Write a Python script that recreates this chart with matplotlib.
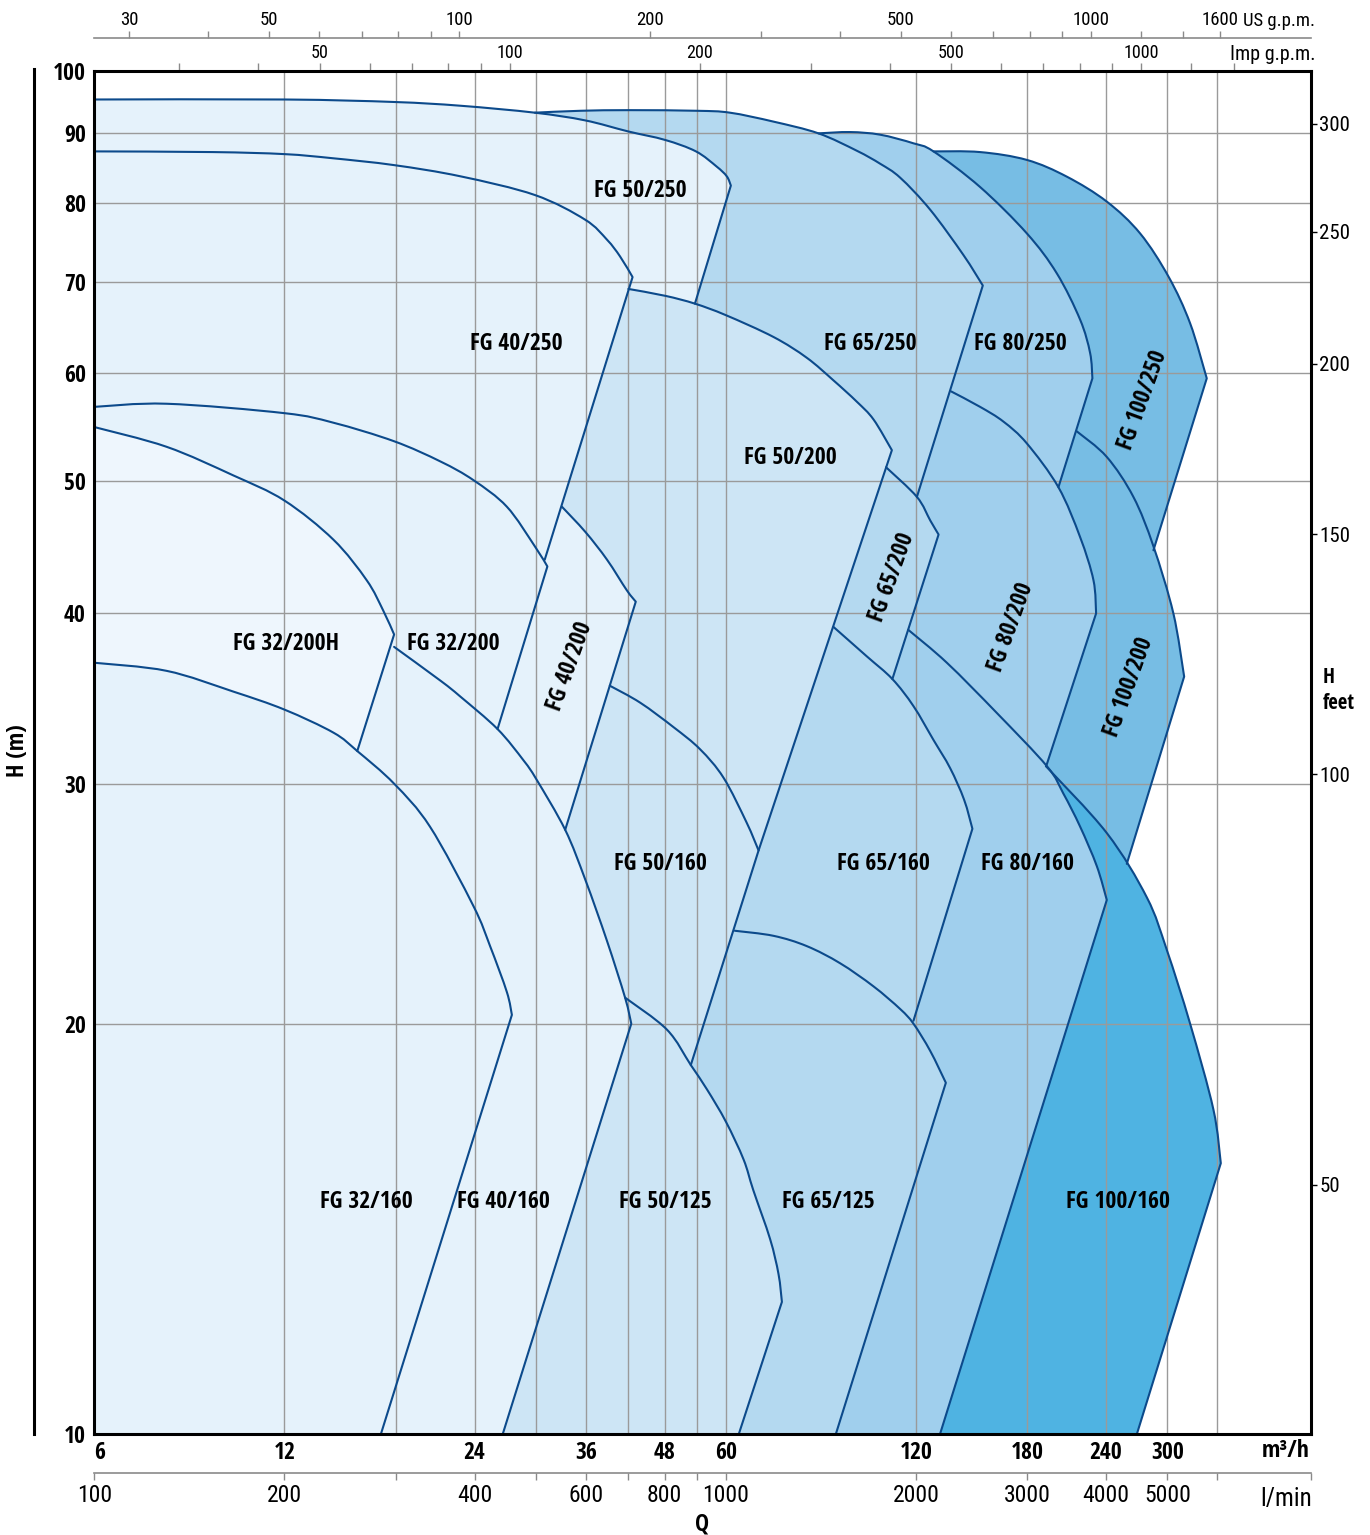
import os
import numpy as np
import matplotlib
matplotlib.use("Agg")
import matplotlib.pyplot as plt
from matplotlib import font_manager
from matplotlib.font_manager import FontProperties
from matplotlib.lines import Line2D
from matplotlib.path import Path
from matplotlib.patches import PathPatch
from matplotlib.ticker import NullLocator

# ---------------- fonts (narrow / condensed sans) ----------------
def _font_files():
    files = [f.fname for f in font_manager.fontManager.ttflist]
    try:
        files += font_manager.findSystemFonts()
    except Exception:
        pass
    out = {}
    for p in files:
        out.setdefault(os.path.basename(p).lower(), p)
    return out

_FILES = _font_files()

def _pick(names):
    for n in names:
        if n in _FILES:
            return _FILES[n]
    return None

_bold_file = _pick(["liberationsansnarrow-bold.ttf", "notosans-condensedbold.ttf",
                    "notosans-condensed-bold.ttf", "opensans-condbold.ttf",
                    "opensanscondensed-bold.ttf", "opensans_condensed-bold.ttf",
                    "robotocondensed-bold.ttf", "dejavusanscondensed-bold.ttf"])
_reg_file = _pick(["liberationsansnarrow-regular.ttf", "notosans-condensed.ttf",
                   "notosans-condensedregular.ttf", "notosans-condensed-regular.ttf",
                   "opensanscondensed-regular.ttf", "robotocondensed-regular.ttf",
                   "dejavusanscondensed.ttf"])

def fp_bold(size):
    if _bold_file:
        return FontProperties(fname=_bold_file, size=size)
    return FontProperties(family="DejaVu Sans", stretch="condensed", weight="bold", size=size)

def fp_reg(size):
    if _reg_file:
        return FontProperties(fname=_reg_file, size=size)
    return FontProperties(family="DejaVu Sans", stretch="condensed", size=size)

plt.rcParams["font.family"] = ["DejaVu Sans"]

# ---------------- data ----------------
# Pump ranges: top (max impeller) curve Q [m3/h] / H [m]; right boundary line runs
# from the last curve point down to *_end.
fg_100_250_q = [127.9, 151.6, 179.8, 208.0, 240.6, 271.7, 301.6, 326.0, 346.4]
fg_100_250_h = [87.3, 87.2, 86.05, 83.65, 80.2, 76.0, 70.6, 65.3, 59.5]
fg_100_250_end = [285.2, 44.5]

fg_100_200_q = [215.7, 240.6, 265.1, 285.2, 306.7, 319.0]
fg_100_200_h = [54.4, 52.1, 48.7, 44.8, 40.0, 35.95]
fg_100_200_end = [258.8, 26.2]

fg_100_160_q = [192.7, 240.6, 278.5, 299.5, 326.0, 354.9, 364.6]
fg_100_160_h = [30.9, 27.6, 24.75, 22.65, 20.0, 17.3, 15.8]
fg_100_160_end = [268.5, 10.0]

fg_80_250_q = [84.1, 94.4, 105.3, 118.9, 127.9, 151.6, 179.8, 200.5, 218.3, 226.4, 228.3]
fg_80_250_h = [90.0, 90.2, 89.8, 88.5, 87.3, 82.2, 76.0, 71.05, 65.7, 62.1, 59.5]
fg_80_250_end = [201.7, 49.5]

fg_80_200_q = [136.4, 151.6, 165.1, 179.8, 201.7, 218.3, 229.2, 231.4]
fg_80_200_h = [58.2, 56.7, 55.3, 53.3, 49.5, 45.5, 42.3, 40.0]
fg_80_200_end = [192.9, 30.9]

fg_80_160_q = [116.7, 134.3, 161.2, 193.4, 205.4, 218.3, 232.0, 240.6]
fg_80_160_h = [38.9, 36.8, 33.8, 30.9, 29.5, 27.9, 26.1, 24.65]
fg_80_160_end = [131.0, 10.0]

fg_65_250_q = [29.9, 35.3, 42.3, 54.0, 60.9, 71.4, 84.1, 96.7, 105.3, 113.3, 126.4, 142.6, 153.1]
fg_65_250_h = [93.2, 93.5, 93.6, 93.5, 93.2, 91.8, 90.0, 87.4, 85.5, 83.5, 79.1, 73.3, 69.6]
fg_65_250_end = [120.4, 48.7]

fg_65_200_q = [107.6, 120.4, 126.4, 130.3]
fg_65_200_h = [51.2, 48.7, 46.8, 45.7]
fg_65_200_end = [110.1, 35.8]

fg_65_160_q = [88.8, 100.3, 110.1, 118.9, 127.9, 135.9, 143.0, 147.4]
fg_65_160_h = [39.1, 37.2, 35.8, 34.2, 32.3, 30.8, 29.2, 27.8]
fg_65_160_end = [118.9, 20.1]

fg_65_125_q = [62.0, 71.4, 80.6, 91.0, 102.8, 113.3, 118.9, 126.4, 133.8]
fg_65_125_h = [23.4, 23.2, 22.8, 22.15, 21.3, 20.5, 20.0, 19.1, 18.1]
fg_65_125_end = [89.6, 10.0]

fg_50_250_q = [6.0, 12.0, 17.9, 22.8, 29.9, 35.9, 42.0, 48.1, 53.8, 58.0, 60.2, 61.1]
fg_50_250_h = [95.3, 95.3, 94.9, 94.3, 93.2, 92.0, 90.3, 89.0, 87.3, 85.1, 83.7, 82.4]
fg_50_250_end = [53.6, 67.5]

fg_50_200_q = [42.05, 48.1, 53.6, 60.0, 71.4, 80.6, 88.8, 96.7, 102.8, 109.9]
fg_50_200_h = [69.2, 68.4, 67.5, 66.2, 63.8, 61.6, 59.3, 57.2, 55.5, 52.7]
fg_50_200_end = [67.6, 26.8]

fg_50_160_q = [39.3, 43.9, 49.6, 54.6, 59.5, 64.7, 67.6]
fg_50_160_h = [35.4, 34.4, 33.0, 31.8, 30.3, 28.1, 26.8]
fg_50_160_end = [52.8, 18.65]

fg_50_125_q = [41.55, 48.4, 52.8, 56.0, 60.0, 64.0, 66.3, 70.5, 72.7, 73.6]
fg_50_125_h = [20.9, 19.8, 18.65, 17.9, 16.95, 15.9, 15.1, 13.9, 13.1, 12.5]
fg_50_125_end = [62.9, 10.0]

fg_40_250_q = [6.0, 9.25, 12.0, 14.3, 17.9, 22.8, 29.9, 35.9, 38.9, 40.8, 42.7]
fg_40_250_h = [87.3, 87.2, 86.9, 86.3, 85.3, 83.7, 81.1, 77.8, 75.2, 73.1, 70.6]
fg_40_250_end = [31.0, 43.8]

fg_40_200_q = [33.0, 35.95, 38.9, 41.8, 43.2]
fg_40_200_h = [47.9, 45.9, 43.8, 41.6, 40.8]
fg_40_200_end = [33.4, 27.75]

fg_40_160_q = [17.9, 21.2, 22.8, 26.1, 28.7, 30.1, 33.4, 35.95, 38.9, 41.55, 42.5]
fg_40_160_h = [37.8, 35.7, 34.75, 32.9, 31.2, 30.2, 27.75, 25.5, 23.0, 20.9, 20.0]
fg_40_160_end = [26.6, 10.0]

fg_32_200_q = [6.0, 7.81, 12.0, 14.35, 17.9, 21.2, 23.9, 27.0, 29.9, 31.3]
fg_32_200_h = [56.7, 57.0, 56.1, 55.2, 53.5, 51.7, 50.1, 47.9, 44.8, 43.3]
fg_32_200_end = [26.1, 32.9]

fg_32_200h_q = [6.0, 7.81, 9.96, 12.0, 14.35, 16.2, 17.2, 17.9]
fg_32_200h_h = [54.8, 53.0, 50.5, 48.4, 45.3, 42.3, 40.2, 38.6]
fg_32_200h_end = [15.65, 31.7]

fg_32_160_q = [6.0, 7.81, 9.96, 12.0, 14.35, 15.65, 17.9, 20.4, 23.9, 25.4, 27.0, 27.5]
fg_32_160_h = [36.8, 36.3, 35.05, 34.0, 32.7, 31.7, 30.0, 27.9, 24.4, 22.8, 21.1, 20.3]
fg_32_160_end = [17.06, 10.0]

# pump labels: name, Q, H, rotation
label_names = ["FG 50/250", "FG 40/250", "FG 65/250", "FG 80/250", "FG 100/250",
               "FG 50/200", "FG 32/200H", "FG 32/200", "FG 40/200", "FG 65/200",
               "FG 80/200", "FG 100/200", "FG 50/160", "FG 65/160", "FG 80/160",
               "FG 32/160", "FG 40/160", "FG 50/125", "FG 65/125", "FG 100/160"]
label_q = [44.0, 27.9, 101.5, 175.4, 274.7, 75.8, 12.07, 22.2, 34.0, 110.0,
           170.0, 261.1, 47.2, 106.5, 180.0, 16.2, 26.7, 48.1, 87.1, 250.8]
label_h = [81.7, 63.0, 63.0, 63.0, 57.3, 52.0, 38.0, 38.0, 36.55, 42.5,
           39.1, 35.3, 26.2, 26.2, 26.2, 14.8, 14.8, 14.8, 14.8, 14.8]
label_rot = [0, 0, 0, 0, 70, 0, 0, 0, 70, 70, 70, 70, 0, 0, 0, 0, 0, 0, 0, 0]

# axes
Q_MIN, Q_MAX = 6.0, 506.0
H_MIN, H_MAX = 10.0, 100.0
q_ticks = [6, 12, 24, 36, 48, 60, 120, 180, 240, 300]
h_ticks = [10, 20, 30, 40, 50, 60, 70, 80, 90, 100]
grid_h = [20, 30, 40, 50, 60, 70, 80, 90]
lmin_ticks = [100, 200, 300, 400, 500, 600, 700, 800, 900, 1000, 2000, 3000, 4000, 5000, 6000]
lmin_labeled = [100, 200, 400, 600, 800, 1000, 2000, 3000, 4000, 5000]
usgpm_ticks = [30, 40, 50, 60, 70, 80, 90, 100, 200, 300, 400, 500, 600, 700, 800, 900,
               1000, 1200, 1400, 1600]
usgpm_labeled = [30, 50, 100, 200, 500, 1000, 1600]
impgpm_ticks = [30, 40, 50, 60, 70, 80, 90, 100, 200, 300, 400, 500, 600, 700, 800, 900,
                1000, 1200, 1400]
impgpm_labeled = [50, 100, 200, 500, 1000]
feet_ticks = [50, 100, 150, 200, 250, 300]

# ---------------- style ----------------
C0 = "#eef6fd"
C1 = "#e5f2fb"
C2 = "#cde5f5"
C3 = "#b4d9f0"
C4 = "#a0cfed"
C5 = "#77bde4"
C6 = "#4fb3e2"
LINE = "#0c4a8b"
GRID = "#9a9a9a"
TICKGRAY = "#8a8a8a"

pumps = [  # back to front
    (fg_100_250_q, fg_100_250_h, fg_100_250_end, C5),
    (fg_100_200_q, fg_100_200_h, fg_100_200_end, C5),
    (fg_100_160_q, fg_100_160_h, fg_100_160_end, C6),
    (fg_80_250_q, fg_80_250_h, fg_80_250_end, C4),
    (fg_80_200_q, fg_80_200_h, fg_80_200_end, C4),
    (fg_80_160_q, fg_80_160_h, fg_80_160_end, C4),
    (fg_65_250_q, fg_65_250_h, fg_65_250_end, C3),
    (fg_65_200_q, fg_65_200_h, fg_65_200_end, C3),
    (fg_65_160_q, fg_65_160_h, fg_65_160_end, C3),
    (fg_65_125_q, fg_65_125_h, fg_65_125_end, C3),
    (fg_50_250_q, fg_50_250_h, fg_50_250_end, C1),
    (fg_50_200_q, fg_50_200_h, fg_50_200_end, C2),
    (fg_50_160_q, fg_50_160_h, fg_50_160_end, C2),
    (fg_50_125_q, fg_50_125_h, fg_50_125_end, C2),
    (fg_40_200_q, fg_40_200_h, fg_40_200_end, C1),
    (fg_40_250_q, fg_40_250_h, fg_40_250_end, C1),
    (fg_32_200_q, fg_32_200_h, fg_32_200_end, C1),
    (fg_40_160_q, fg_40_160_h, fg_40_160_end, C1),
    (fg_32_200h_q, fg_32_200h_h, fg_32_200h_end, C0),
    (fg_32_160_q, fg_32_160_h, fg_32_160_end, C1),
]


def curve_bezier(q, h):
    """Smooth (Catmull-Rom -> cubic Bezier) path through the read points, in log space."""
    P = np.column_stack([np.log10(q), np.log10(h)])
    n = len(P)
    verts = []
    for i in range(n - 1):
        p0 = P[i - 1] if i > 0 else P[i]
        p1, p2 = P[i], P[i + 1]
        p3 = P[i + 2] if i + 2 < n else P[i + 1]
        verts += [p1 + (p2 - p0) / 6.0, p2 - (p3 - p1) / 6.0, p2]
    return [tuple(10 ** v) for v in verts]


W, HH = 1370, 1535
fig = plt.figure(figsize=(W / 100, HH / 100), dpi=100)
ax_left, ax_right, ax_top, ax_bot = 94.3, 1310.7, 71.0, 1434.0
ax = fig.add_axes([ax_left / W, 1 - ax_bot / HH, (ax_right - ax_left) / W, (ax_bot - ax_top) / HH])
ax.set_xscale("log")
ax.set_yscale("log")
ax.set_xlim(Q_MIN, Q_MAX)
ax.set_ylim(H_MIN, H_MAX)

for i, (q, h, end, col) in enumerate(pumps):
    qv, hv = q[-1], h[-1]
    qe, he = end
    if he > H_MIN:
        s = (np.log10(qe) - np.log10(qv)) / (np.log10(he) - np.log10(hv))
        qb = 10 ** (np.log10(qe) + s * (np.log10(H_MIN) - np.log10(he)))
    else:
        qb = qe
    cv = curve_bezier(q, h)
    verts = [(Q_MIN, h[0]), (q[0], h[0])] + cv + [(qb, H_MIN), (Q_MIN, H_MIN), (Q_MIN, h[0])]
    codes = [Path.MOVETO, Path.LINETO] + [Path.CURVE4] * len(cv) + [Path.LINETO, Path.LINETO, Path.CLOSEPOLY]
    ax.add_patch(PathPatch(Path(verts, codes), facecolor=col, edgecolor="none", lw=0, zorder=2 + i))
    sverts = [(q[0], h[0])] + cv + [(qe, he)]
    scodes = [Path.MOVETO] + [Path.CURVE4] * len(cv) + [Path.LINETO]
    ax.add_patch(PathPatch(Path(sverts, scodes), facecolor="none", edgecolor=LINE, lw=1.5,
                           joinstyle="round", capstyle="round", zorder=60))

# grid
grid_q = [v * 60 / 1000 for v in lmin_ticks if v > 100]
for gq in grid_q:
    ax.axvline(gq, color=GRID, lw=1.0, zorder=40)
for gh in grid_h:
    ax.axhline(gh, color=GRID, lw=1.0, zorder=40)

# pump labels
for name, lq, lh, rot in zip(label_names, label_q, label_h, label_rot):
    ax.text(lq, lh, name, ha="center", va="center", rotation=rot, rotation_mode="anchor",
            fontproperties=fp_bold(17), color="black", zorder=80)

# main ticks
ax.set_xticks(q_ticks, [str(v) for v in q_ticks], fontproperties=fp_bold(17))
ax.xaxis.set_minor_locator(NullLocator())
ax.set_yticks(h_ticks, [str(v) for v in h_ticks], fontproperties=fp_bold(17))
ax.yaxis.set_minor_locator(NullLocator())
ax.tick_params(axis="x", length=0, pad=5)
ax.tick_params(axis="y", length=0, pad=6)
ax.get_xticklabels()[0].set_horizontalalignment("left")
for sp in ax.spines.values():
    sp.set_linewidth(2.2)
    sp.set_color("black")
    sp.set_zorder(90)


def m3h_to_lmin(q):
    return np.asarray(q) * 1000.0 / 60.0


def lmin_to_m3h(v):
    return np.asarray(v) * 60.0 / 1000.0


def m3h_to_us(q):
    return np.asarray(q) * 4.40287


def us_to_m3h(g):
    return np.asarray(g) / 4.40287


def m3h_to_imp(q):
    return np.asarray(q) * 3.66615


def imp_to_m3h(g):
    return np.asarray(g) / 3.66615


def m_to_ft(h):
    return np.asarray(h) * 3.28084


def ft_to_m(f):
    return np.asarray(f) / 3.28084


# l/min axis
sec_l = ax.secondary_xaxis(-(1473 - ax_bot) / (ax_bot - ax_top), functions=(m3h_to_lmin, lmin_to_m3h))
lt = lmin_ticks + [float(m3h_to_lmin(Q_MAX))]
sec_l.set_xticks(lt, [str(v) if v in lmin_labeled else "" for v in lt], fontproperties=fp_reg(17))
sec_l.xaxis.set_minor_locator(NullLocator())
sec_l.tick_params(direction="out", length=5, width=1.0, color=TICKGRAY, pad=3)
sec_l.spines["bottom"].set_color(TICKGRAY)
sec_l.spines["bottom"].set_linewidth(1.2)

# US gpm axis
sec_us = ax.secondary_xaxis(1 + (ax_top - 38) / (ax_bot - ax_top), functions=(m3h_to_us, us_to_m3h))
sec_us.set_xticks(usgpm_ticks, [str(v) if v in usgpm_labeled else "" for v in usgpm_ticks],
                  fontproperties=fp_reg(13.5))
sec_us.xaxis.set_minor_locator(NullLocator())
sec_us.tick_params(direction="out", length=5, width=1.0, color=TICKGRAY, pad=1.5)
sec_us.spines["top"].set_color(TICKGRAY)
sec_us.spines["top"].set_linewidth(1.2)

# Imp gpm axis
sec_imp = ax.secondary_xaxis("top", functions=(m3h_to_imp, imp_to_m3h))
sec_imp.set_xticks(impgpm_ticks, [str(v) if v in impgpm_labeled else "" for v in impgpm_ticks],
                   fontproperties=fp_reg(13))
sec_imp.xaxis.set_minor_locator(NullLocator())
sec_imp.tick_params(direction="out", length=5.8, width=1.0, color=TICKGRAY, pad=0.5)
sec_imp.spines["top"].set_visible(False)

# feet axis
sec_ft = ax.secondary_yaxis("right", functions=(m_to_ft, ft_to_m))
sec_ft.set_yticks(feet_ticks, [str(v) for v in feet_ticks], fontproperties=fp_reg(15))
sec_ft.yaxis.set_minor_locator(NullLocator())
sec_ft.tick_params(direction="out", length=4, width=1.0, color="black", pad=2)
sec_ft.spines["right"].set_visible(False)

# figure texts
fig.text(1315 / W, 1 - 26 / HH, "US g.p.m.", ha="right", va="baseline", fontproperties=fp_reg(13.5))
fig.text(1315 / W, 1 - 60 / HH, "Imp g.p.m.", ha="right", va="baseline", fontproperties=fp_reg(14.5))
fig.text(1310 / W, 1 - 1457 / HH, "m³/h", ha="right", va="baseline", fontproperties=fp_bold(17))
fig.text(1312 / W, 1 - 1506 / HH, "l/min", ha="right", va="baseline", fontproperties=fp_reg(18))
fig.text(702 / W, 1 - 1530 / HH, "Q", ha="center", va="baseline", fontproperties=fp_bold(17))
fig.text(18 / W, 1 - 751 / HH, "H (m)", ha="center", va="center", rotation=90, fontproperties=fp_bold(17))
fig.text(1323 / W, 1 - 683 / HH, "H", ha="left", va="baseline", fontproperties=fp_bold(15))
fig.text(1323 / W, 1 - 709 / HH, "feet", ha="left", va="baseline", fontproperties=fp_bold(15))
fig.add_artist(Line2D([34 / W, 34 / W], [1 - 69 / HH, 1 - 1434 / HH], transform=fig.transFigure,
                      color="black", lw=2.2))

fig.savefig("out.png", dpi=100)
